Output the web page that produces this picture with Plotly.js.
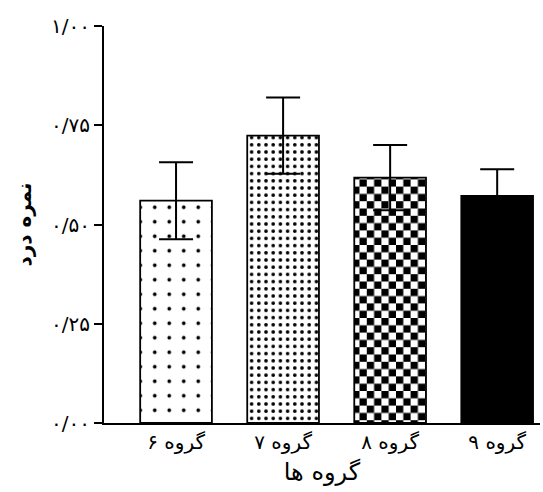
<!DOCTYPE html>
<html>
<head>
<meta charset="utf-8">
<script src="https://cdn.plot.ly/plotly-3.0.1.min.js"></script>
<style>html,body{margin:0;padding:0;background:#fff;}#chart{width:543px;height:492px;}</style>
</head>
<body>
<div id="chart"></div>
<script>
const categories = ['گروه ۶', 'گروه ۷', 'گروه ۸', 'گروه ۹'];
const painScores = [0.56, 0.724, 0.618, 0.572];
const errors = [0.097, 0.096, 0.082, 0.067];
const yTickValues = [0, 0.25, 0.5, 0.75, 1];
const yTickLabels = ['۰/۰۰', '۰/۲۵', '۰/۵۰', '۰/۷۵', '۱/۰۰'];

const font = 'DejaVu Sans, sans-serif';

const trace = {
  type: 'bar',
  x: categories,
  y: painScores,
  width: 0.67,
  marker: {
    color: 'black',
    line: {color: 'black', width: 1.8},
    pattern: {
      shape: ['.', '.', 'x', ''],
      size: [14.5, 7.2, 14.6, 8],
      solidity: [0.05, 0.2, 0.5, 0.3],
      fgcolor: ['black', 'black', 'black', 'black'],
      bgcolor: ['white', 'white', 'white', 'black'],
      fillmode: 'replace'
    }
  },
  error_y: {
    type: 'data', array: errors, visible: true,
    color: 'black', thickness: 2, width: 17
  },
  hoverinfo: 'none'
};

const layout = {
  width: 543, height: 492,
  margin: {l: 104, r: 3, t: 26, b: 69},
  paper_bgcolor: 'white', plot_bgcolor: 'white',
  showlegend: false,
  font: {family: font, color: 'black', size: 18},
  xaxis: {
    range: [-0.673, 3.4],
    showline: true, linecolor: 'black', linewidth: 2,
    ticks: '', showgrid: false, zeroline: false,
    tickfont: {family: font, size: 20, color: 'black'},
    title: {text: 'گروه ها', font: {family: font, size: 24, color: 'black'}, standoff: 10}
  },
  yaxis: {
    range: [0, 1],
    tickvals: yTickValues, ticktext: yTickLabels,
    showline: true, linecolor: 'black', linewidth: 2,
    ticks: 'outside', ticklen: 8, tickwidth: 2, tickcolor: 'black',
    showgrid: false, zeroline: false,
    tickfont: {family: font, size: 20, color: 'black'},
    title: {text: '<b>نمره درد</b>', font: {family: font, size: 20, color: 'black'}, standoff: 14}
  }
};

Plotly.newPlot('chart', [trace], layout, {staticPlot: true}).then(function (gd) {
  // turn the third bar's pattern tile into a checkerboard
  const paths = gd.querySelectorAll('.trace.bars .point path');
  if (paths.length < 3) return;
  const fill = paths[2].style.fill || paths[2].getAttribute('fill') || '';
  const m = fill.match(/#([^"')]+)/);
  if (!m) return;
  const pat = document.getElementById(m[1]);
  if (!pat) return;
  const s = 14.6, h = s / 2;
  const NS = 'http://www.w3.org/2000/svg';
  while (pat.firstChild) pat.removeChild(pat.firstChild);
  pat.setAttribute('width', s);
  pat.setAttribute('height', s);
  const mk = (x, y, w, hh, c) => {
    const r = document.createElementNS(NS, 'rect');
    r.setAttribute('x', x); r.setAttribute('y', y);
    r.setAttribute('width', w); r.setAttribute('height', hh);
    r.setAttribute('fill', c);
    pat.appendChild(r);
  };
  mk(0, 0, s, s, 'white');
  mk(0, 0, h, h, 'black');
  mk(h, h, h, h, 'black');
});
</script>
</body>
</html>
